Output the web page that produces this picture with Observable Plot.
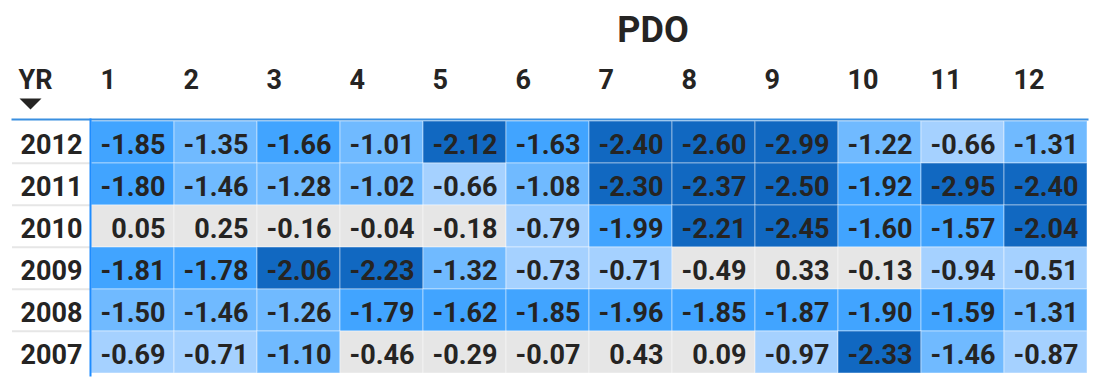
<!DOCTYPE html>
<html>
<head>
<meta charset="utf-8">
<script src="https://cdn.jsdelivr.net/npm/d3@7"></script>
<script src="https://cdn.jsdelivr.net/npm/@observablehq/plot@0.6"></script>
<style>
  html, body { margin: 0; padding: 0; background: #fff; }
  svg { font-family: Roboto, "DejaVu Sans", sans-serif; }
</style>
</head>
<body>
<div id="chart"></div>
<script>
const title = "PDO";
const rowHeader = "YR";
const months = [1, 2, 3, 4, 5, 6, 7, 8, 9, 10, 11, 12];
const years = [2012, 2011, 2010, 2009, 2008, 2007];
const v2012 = [-1.85, -1.35, -1.66, -1.01, -2.12, -1.63, -2.40, -2.60, -2.99, -1.22, -0.66, -1.31];
const v2011 = [-1.80, -1.46, -1.28, -1.02, -0.66, -1.08, -2.30, -2.37, -2.50, -1.92, -2.95, -2.40];
const v2010 = [0.05, 0.25, -0.16, -0.04, -0.18, -0.79, -1.99, -2.21, -2.45, -1.60, -1.57, -2.04];
const v2009 = [-1.81, -1.78, -2.06, -2.23, -1.32, -0.73, -0.71, -0.49, 0.33, -0.13, -0.94, -0.51];
const v2008 = [-1.50, -1.46, -1.26, -1.79, -1.62, -1.85, -1.96, -1.85, -1.87, -1.90, -1.59, -1.31];
const v2007 = [-0.69, -0.71, -1.10, -0.46, -0.29, -0.07, 0.43, 0.09, -0.97, -2.33, -1.46, -0.87];
const thresholds = [-2, -1.5, -1, -0.5];

const rows = [v2012, v2011, v2010, v2009, v2008, v2007];
const data = [];
years.forEach((yr, i) => months.forEach((m, j) => data.push({year: yr, month: m, value: rows[i][j]})));

const W = 1093, H = 385;
const mL = 90, mR = 6, mT = 119, mB = 10;
const bwX = (W - mL - mR) / months.length;
const bwY = (H - mT - mB) / years.length;
const ink = "#252423";
const fs = 27;
const fw = 700;

const flatTriangle = {
  draw(ctx, size) {
    const r = Math.sqrt(size / Math.PI);
    ctx.moveTo(-r, -r / 2);
    ctx.lineTo(r, -r / 2);
    ctx.lineTo(0, r / 2);
    ctx.closePath();
  }
};

const chart = Plot.plot({
  width: W,
  height: H,
  marginLeft: mL,
  marginRight: mR,
  marginTop: mT,
  marginBottom: mB,
  style: {fontFamily: "Roboto, 'DejaVu Sans', sans-serif", background: "#fff"},
  x: {type: "band", domain: months, padding: 0, axis: null},
  y: {type: "band", domain: years, padding: 0, axis: null},
  color: {
    type: "threshold",
    domain: thresholds,
    range: ["#1168C1", "#41A4FF", "#70BAFF", "#A5D1FF", "#E6E6E6"]
  },
  marks: [
    Plot.ruleY(years.slice(1), {y: d => d, dy: -bwY / 2, stroke: "#E6E6E6", strokeWidth: 2, insetLeft: -78}),
    Plot.cell(data, {x: "month", y: "year", fill: "value", stroke: "#ffffff", strokeOpacity: 0.45, strokeWidth: 1}),
    Plot.text(data, {
      x: "month", y: "year", text: d => d.value.toFixed(2),
      textAnchor: "end", dx: bwX / 2 - 9, dy: 3,
      fontSize: fs, fontWeight: fw, fill: ink
    }),
    Plot.text(years, {
      y: d => d, text: d => String(d), frameAnchor: "left",
      textAnchor: "start", dx: -70, dy: 3,
      fontSize: fs, fontWeight: fw, fill: ink
    }),
    Plot.text(months, {
      x: d => d, text: d => String(d), frameAnchor: "top",
      textAnchor: "start", lineAnchor: "bottom", dx: -bwX / 2 + 9, dy: -31,
      fontSize: fs, fontWeight: fw, fill: ink
    }),
    Plot.text([rowHeader], {
      text: d => d, frameAnchor: "top-left",
      textAnchor: "start", lineAnchor: "bottom", dx: -72, dy: -31,
      fontSize: fs, fontWeight: fw, fill: ink
    }),
    Plot.dot([0], {frameAnchor: "top-left", dx: -60, dy: -15.5, symbol: flatTriangle, r: 11, fill: ink, stroke: "none"}),
    Plot.text([title], {
      text: d => d, frameAnchor: "top",
      textAnchor: "middle", lineAnchor: "bottom", dx: 64, dy: -78,
      fontSize: 36, fontWeight: 700, fill: ink
    }),
    Plot.frame({anchor: "top", stroke: "#3A8FE0", strokeWidth: 2, insetLeft: -78}),
    Plot.frame({anchor: "left", stroke: "#1E8CFF", strokeWidth: 2})
  ]
});
document.getElementById("chart").appendChild(chart);
</script>
</body>
</html>
